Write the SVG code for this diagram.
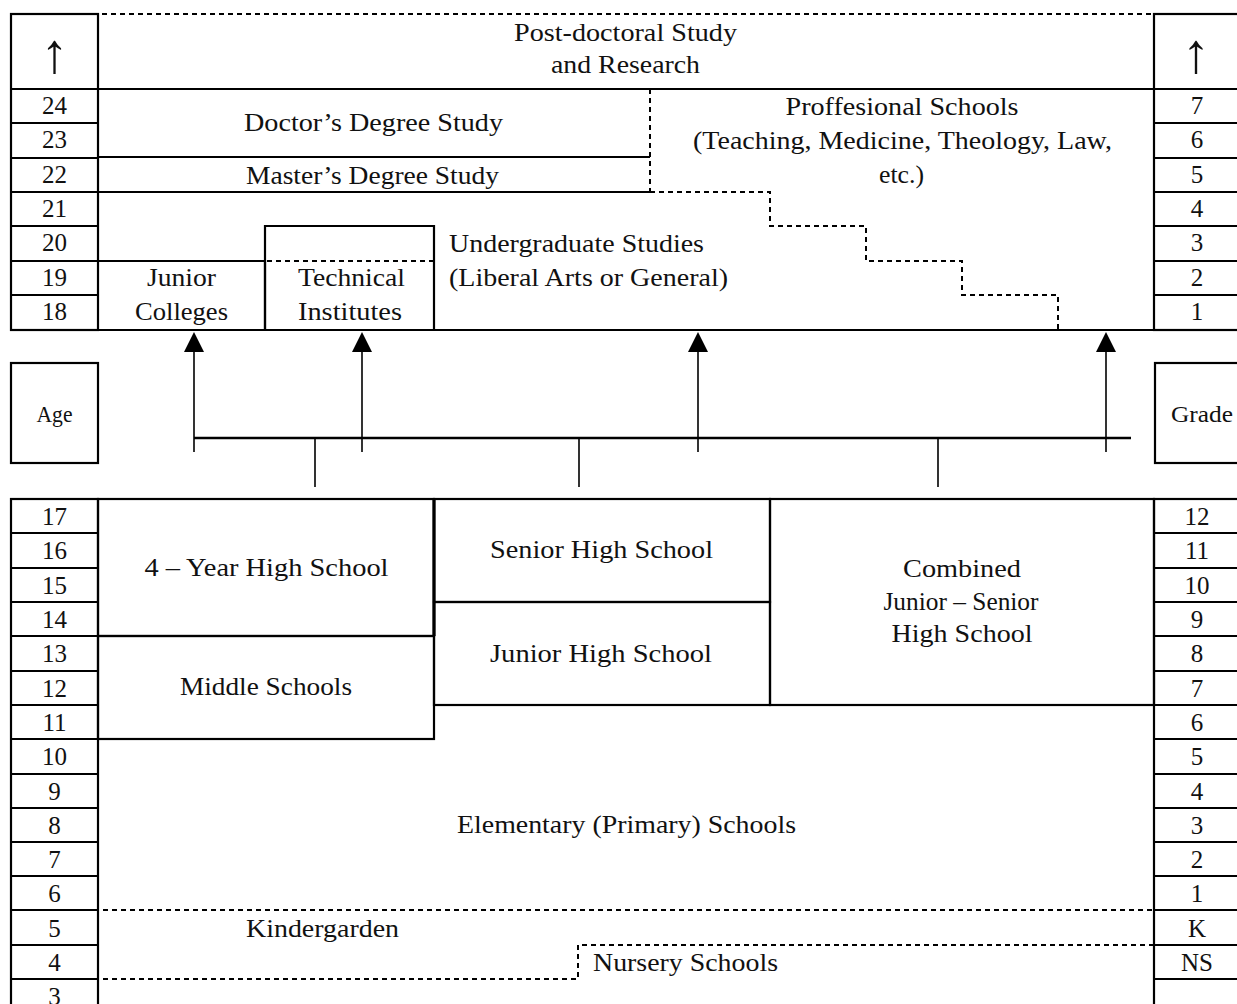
<svg xmlns="http://www.w3.org/2000/svg" width="1237" height="1004" viewBox="0 0 1237 1004">
<style>
  .b{fill:none;stroke:#000;stroke-width:2.2}
  .d{fill:none;stroke:#000;stroke-width:2;stroke-dasharray:5 4}
  .c{fill:none;stroke:#000;stroke-width:1.6}
  .h{fill:none;stroke:#000;stroke-width:2.6}
  text{font-family:"Liberation Serif","Times New Roman",serif;font-size:26px;fill:#111;text-anchor:middle}
  .n{font-size:25px}
  .s{text-anchor:start}
  .ar{font-family:"Liberation Serif","DejaVu Serif",serif;font-size:56px}
</style>
<defs>
  <marker id="ah" markerUnits="userSpaceOnUse" viewBox="0 0 20 20" markerWidth="20" markerHeight="20" refX="12" refY="10" orient="auto">
    <path d="M0,0 L20,10 L0,20 z" fill="#000"/>
  </marker>
</defs>
<rect width="1237" height="1004" fill="#fff"/>

<!-- TOP SECTION -->
<g id="age-column-top">
  <rect class="b" x="11" y="14" width="87" height="316"/>
  <path class="b" d="M11,89H98M11,123H98M11,158H98M11,192H98M11,226H98M11,261H98M11,295H98"/>
  <text class="ar" x="54.5" y="72">↑</text>
  <text class="n" x="54.5" y="114">24</text>
  <text class="n" x="54.5" y="148">23</text>
  <text class="n" x="54.5" y="183">22</text>
  <text class="n" x="54.5" y="217">21</text>
  <text class="n" x="54.5" y="251">20</text>
  <text class="n" x="54.5" y="286">19</text>
  <text class="n" x="54.5" y="320">18</text>
</g>
<g id="grade-column-top">
  <rect class="b" x="1154" y="14" width="92" height="316"/>
  <path class="b" d="M1154,89H1246M1154,123H1246M1154,158H1246M1154,192H1246M1154,226H1246M1154,261H1246M1154,295H1246"/>
  <text class="ar" x="1196" y="72">↑</text>
  <text class="n" x="1197" y="114">7</text>
  <text class="n" x="1197" y="148">6</text>
  <text class="n" x="1197" y="183">5</text>
  <text class="n" x="1197" y="217">4</text>
  <text class="n" x="1197" y="251">3</text>
  <text class="n" x="1197" y="286">2</text>
  <text class="n" x="1197" y="320">1</text>
</g>
<g id="postdoctoral">
  <path class="d" d="M102,14H1154"/>
  <path class="b" d="M98,89H1154"/>
  <text x="625.5" y="41" textLength="223" lengthAdjust="spacingAndGlyphs">Post-doctoral Study</text>
  <text x="625.5" y="73" textLength="149" lengthAdjust="spacingAndGlyphs">and Research</text>
</g>
<g id="doctor">
  <path class="b" d="M98,157H650"/>
  <path class="d" d="M650,89V192"/>
  <text x="373.5" y="131" textLength="259" lengthAdjust="spacingAndGlyphs">Doctor’s Degree Study</text>
</g>
<g id="master">
  <path class="b" d="M98,192H650"/>
  <text x="372.5" y="184" textLength="253" lengthAdjust="spacingAndGlyphs">Master’s Degree Study</text>
</g>
<g id="professional">
  <path class="d" d="M650,192H770V226H866V261H962V295H1058V330"/>
  <text x="902" y="115" textLength="233" lengthAdjust="spacingAndGlyphs">Proffesional Schools</text>
  <text x="902.5" y="149" textLength="419" lengthAdjust="spacingAndGlyphs">(Teaching, Medicine, Theology, Law,</text>
  <text x="901.5" y="183" textLength="45" lengthAdjust="spacingAndGlyphs">etc.)</text>
</g>
<g id="undergraduate">
  <path class="b" d="M11,330H1154"/>
  <text class="s" x="449" y="252" textLength="255" lengthAdjust="spacingAndGlyphs">Undergraduate Studies</text>
  <text class="s" x="449" y="286" textLength="279" lengthAdjust="spacingAndGlyphs">(Liberal Arts or General)</text>
</g>
<g id="junior-colleges">
  <path class="b" d="M98,261H265V330"/>
  <text x="181.5" y="286" textLength="69" lengthAdjust="spacingAndGlyphs">Junior</text>
  <text x="181.5" y="320" textLength="93" lengthAdjust="spacingAndGlyphs">Colleges</text>
</g>
<g id="technical-institutes">
  <path class="b" d="M265,330V226H434V330"/>
  <path class="d" d="M267,261H434"/>
  <text x="351.5" y="286" textLength="107" lengthAdjust="spacingAndGlyphs">Technical</text>
  <text x="350" y="320" textLength="104" lengthAdjust="spacingAndGlyphs">Institutes</text>
</g>

<!-- MIDDLE -->
<g id="age-label">
  <rect class="b" x="11" y="363" width="87" height="100"/>
  <text x="54.5" y="422" style="font-size:23px" textLength="36" lengthAdjust="spacingAndGlyphs">Age</text>
</g>
<g id="grade-label">
  <rect class="b" x="1155" y="363" width="92" height="100"/>
  <text x="1202" y="422" style="font-size:23px" textLength="62" lengthAdjust="spacingAndGlyphs">Grade</text>
</g>
<g id="connectors">
  <path class="h" d="M194,438H1131"/>
  <path class="c" d="M315,438V487M579,438V487M938,438V487"/>
  <path class="c" d="M194,452V340" marker-end="url(#ah)"/>
  <path class="c" d="M362,452V340" marker-end="url(#ah)"/>
  <path class="c" d="M698,452V340" marker-end="url(#ah)"/>
  <path class="c" d="M1106,452V340" marker-end="url(#ah)"/>
</g>

<!-- BOTTOM SECTION -->
<g id="age-column-bottom">
  <rect class="b" x="11" y="499" width="87" height="520"/>
  <path class="b" d="M11,533H98M11,568H98M11,602H98M11,636H98M11,671H98M11,705H98M11,739H98M11,774H98M11,808H98M11,842H98M11,876H98M11,910H98M11,945H98M11,979H98"/>
  <text class="n" x="54.5" y="525">17</text>
  <text class="n" x="54.5" y="559">16</text>
  <text class="n" x="54.5" y="594">15</text>
  <text class="n" x="54.5" y="628">14</text>
  <text class="n" x="54.5" y="662">13</text>
  <text class="n" x="54.5" y="697">12</text>
  <text class="n" x="54.5" y="731">11</text>
  <text class="n" x="54.5" y="765">10</text>
  <text class="n" x="54.5" y="800">9</text>
  <text class="n" x="54.5" y="834">8</text>
  <text class="n" x="54.5" y="868">7</text>
  <text class="n" x="54.5" y="902">6</text>
  <text class="n" x="54.5" y="937">5</text>
  <text class="n" x="54.5" y="971">4</text>
  <text class="n" x="54.5" y="1005">3</text>
</g>
<g id="grade-column-bottom">
  <rect class="b" x="1154" y="499" width="92" height="520"/>
  <path class="b" d="M1154,533H1246M1154,568H1246M1154,602H1246M1154,636H1246M1154,671H1246M1154,705H1246M1154,739H1246M1154,774H1246M1154,808H1246M1154,842H1246M1154,876H1246M1154,910H1246M1154,945H1246M1154,979H1246"/>
  <text class="n" x="1197" y="525">12</text>
  <text class="n" x="1197" y="559">11</text>
  <text class="n" x="1197" y="594">10</text>
  <text class="n" x="1197" y="628">9</text>
  <text class="n" x="1197" y="662">8</text>
  <text class="n" x="1197" y="697">7</text>
  <text class="n" x="1197" y="731">6</text>
  <text class="n" x="1197" y="765">5</text>
  <text class="n" x="1197" y="800">4</text>
  <text class="n" x="1197" y="834">3</text>
  <text class="n" x="1197" y="868">2</text>
  <text class="n" x="1197" y="902">1</text>
  <text class="n" x="1197" y="937">K</text>
  <text class="n" x="1197" y="971">NS</text>
</g>
<g id="four-year-high-school">
  <rect class="b" x="98" y="499" width="336" height="137"/>
  <path d="M434,499V636" stroke="#000" stroke-width="3.2"/>
  <text x="266.5" y="576" textLength="244" lengthAdjust="spacingAndGlyphs">4 – Year High School</text>
</g>
<g id="middle-schools">
  <rect class="b" x="98" y="636" width="336" height="103"/>
  <text x="266" y="695" textLength="172" lengthAdjust="spacingAndGlyphs">Middle Schools</text>
</g>
<g id="senior-high-school">
  <rect class="b" x="434" y="499" width="336" height="103"/>
  <text x="601.5" y="558" textLength="223" lengthAdjust="spacingAndGlyphs">Senior High School</text>
</g>
<g id="junior-high-school">
  <rect class="b" x="434" y="602" width="336" height="103"/>
  <text x="601" y="662" textLength="222" lengthAdjust="spacingAndGlyphs">Junior High School</text>
</g>
<g id="combined-high-school">
  <rect class="b" x="770" y="499" width="384" height="206"/>
  <text x="962" y="577" textLength="118" lengthAdjust="spacingAndGlyphs">Combined</text>
  <text x="961" y="610" textLength="155" lengthAdjust="spacingAndGlyphs">Junior – Senior</text>
  <text x="962" y="642" textLength="141" lengthAdjust="spacingAndGlyphs">High School</text>
</g>
<g id="elementary">
  <text x="626.5" y="833" textLength="339" lengthAdjust="spacingAndGlyphs">Elementary (Primary) Schools</text>
</g>
<g id="kindergarden">
  <path class="d" d="M103,910H1154"/>
  <path class="d" d="M103,979H578V945H1154"/>
  <text x="322.5" y="937" textLength="153" lengthAdjust="spacingAndGlyphs">Kindergarden</text>
</g>
<g id="nursery-schools">
  <text x="685.5" y="971" textLength="185" lengthAdjust="spacingAndGlyphs">Nursery Schools</text>
</g>
</svg>
